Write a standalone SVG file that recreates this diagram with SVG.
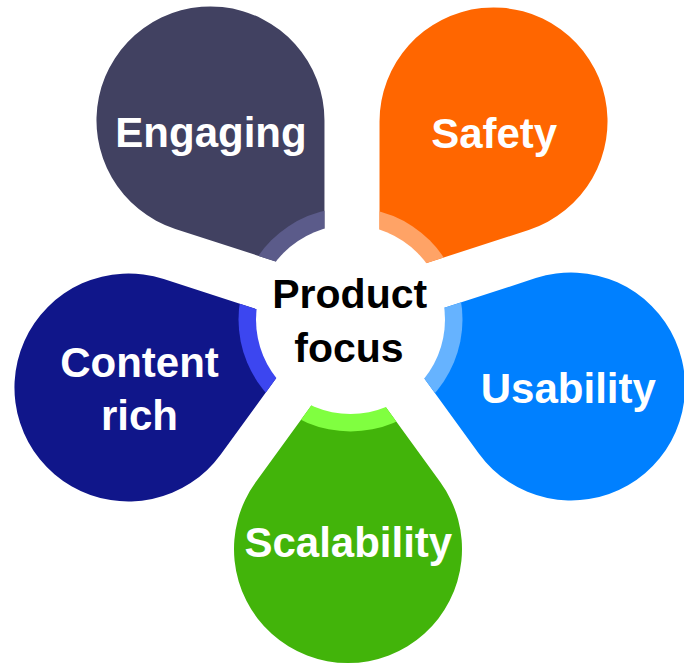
<svg xmlns="http://www.w3.org/2000/svg" xmlns:xlink="http://www.w3.org/1999/xlink" width="684" height="664" viewBox="0 0 684 664">
  <style>
    .lbl { font-family: "Liberation Sans", Arial, sans-serif; font-weight: bold; font-size: 42px; fill: #ffffff; text-anchor: middle; }
    .ctr { font-family: "Liberation Sans", Arial, sans-serif; font-weight: bold; font-size: 41px; fill: #000000; text-anchor: middle; }
  </style>
  <defs>
    <path id="petal" d="M 92.2 67 A 114 114 0 1 0 -92.2 67 L 0 193.9 Z"/>
    <clipPath id="ring">
      <circle cx="350.5" cy="319.5" r="112"/>
    </clipPath>
  </defs>
  <rect width="684" height="664" fill="#ffffff"/>

  <g id="node-engaging">
    <use xlink:href="#petal" href="#petal" fill="#414161" transform="translate(210.5 120.5) rotate(-36)"/>
    <g clip-path="url(#ring)">
      <use xlink:href="#petal" href="#petal" fill="#5b5b8a" transform="translate(210.5 120.5) rotate(-36)"/>
    </g>
    <text class="lbl" x="211" y="146.7">Engaging</text>
  </g>

  <g id="node-safety">
    <use xlink:href="#petal" href="#petal" fill="#ff6600" transform="translate(493.5 121.5) rotate(36)"/>
    <g clip-path="url(#ring)">
      <use xlink:href="#petal" href="#petal" fill="#ffa366" transform="translate(493.5 121.5) rotate(36)"/>
    </g>
    <text class="lbl" x="494.2" y="148.3">Safety</text>
  </g>

  <g id="node-usability">
    <use xlink:href="#petal" href="#petal" fill="#0080ff" transform="translate(571 386.5) rotate(108)"/>
    <g clip-path="url(#ring)">
      <use xlink:href="#petal" href="#petal" fill="#66b3ff" transform="translate(571 386.5) rotate(108)"/>
    </g>
    <text class="lbl" x="568.3" y="403.3">Usability</text>
  </g>

  <g id="node-scalability">
    <use xlink:href="#petal" href="#petal" fill="#42b40a" transform="translate(348 549) rotate(180)"/>
    <g clip-path="url(#ring)">
      <use xlink:href="#petal" href="#petal" fill="#80ff40" transform="translate(348 549) rotate(180)"/>
    </g>
    <text class="lbl" x="348.3" y="556.7">Scalability</text>
  </g>

  <g id="node-content-rich">
    <use xlink:href="#petal" href="#petal" fill="#10168a" transform="translate(128.5 387.5) rotate(252)"/>
    <g clip-path="url(#ring)">
      <use xlink:href="#petal" href="#petal" fill="#3c46f0" transform="translate(128.5 387.5) rotate(252)"/>
    </g>
    <text class="lbl" x="139.5" y="376.7">Content</text>
    <text class="lbl" x="139.5" y="430">rich</text>
  </g>

  <g id="connectors"/>

  <g id="node-product-focus">
    <circle cx="350.5" cy="319.5" r="94.5" fill="#ffffff"/>
    <text class="ctr" x="349.7" y="308.3">Product</text>
    <text class="ctr" x="349" y="361.7">focus</text>
  </g>
</svg>
